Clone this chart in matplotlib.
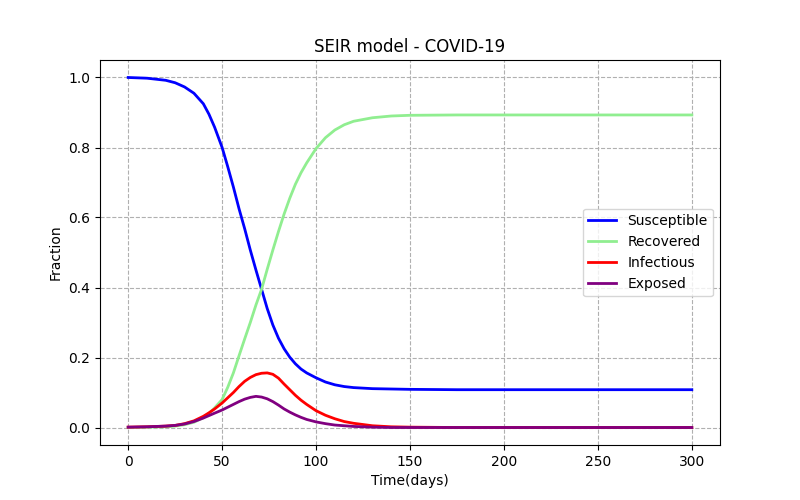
import numpy as np
import matplotlib
matplotlib.use('Agg')
import matplotlib.pyplot as plt

# values
days = [0, 10, 20, 25, 30, 35, 40, 43, 46, 50, 53, 56, 59, 62, 65, 68, 71, 74, 77,
        80, 83, 86, 89, 92, 95, 100, 105, 110, 115, 120, 130, 140, 150, 175, 200, 250, 300]
susceptible = [1.000, 0.998, 0.992, 0.985, 0.973, 0.955, 0.925, 0.895, 0.858, 0.800,
               0.745, 0.687, 0.625, 0.568, 0.507, 0.450, 0.395, 0.340, 0.293,
               0.255, 0.225, 0.201, 0.182, 0.167, 0.156, 0.142, 0.130, 0.122, 0.117,
               0.114, 0.111, 0.110, 0.109, 0.108, 0.108, 0.108, 0.108]
recovered = [0.000, 0.001, 0.002, 0.004, 0.008, 0.015, 0.028, 0.040, 0.056, 0.080,
             0.115, 0.156, 0.205, 0.253, 0.300, 0.350, 0.395, 0.452, 0.507,
             0.560, 0.610, 0.655, 0.695, 0.728, 0.756, 0.797, 0.828, 0.850, 0.865,
             0.875, 0.885, 0.890, 0.892, 0.893, 0.893, 0.893, 0.893]
infectious = [0.001, 0.002, 0.004, 0.006, 0.011, 0.019, 0.032, 0.042, 0.053, 0.070,
              0.085, 0.100, 0.117, 0.132, 0.143, 0.151, 0.155, 0.156, 0.152,
              0.141, 0.124, 0.108, 0.092, 0.078, 0.066, 0.048, 0.035, 0.025, 0.017,
              0.012, 0.005, 0.002, 0.001, 0.000, 0.000, 0.000, 0.000]
exposed = [0.001, 0.002, 0.004, 0.006, 0.010, 0.017, 0.027, 0.034, 0.041, 0.050,
           0.058, 0.066, 0.074, 0.081, 0.086, 0.089, 0.087, 0.082, 0.074,
           0.064, 0.053, 0.044, 0.036, 0.029, 0.023, 0.016, 0.011, 0.007, 0.005,
           0.003, 0.001, 0.000, 0.000, 0.000, 0.000, 0.000, 0.000]

fig, ax = plt.subplots(figsize=(8, 5), dpi=100)

ax.plot(days, susceptible, color='blue', lw=2, label='Susceptible')
ax.plot(days, recovered, color='lightgreen', lw=2, label='Recovered')
ax.plot(days, infectious, color='red', lw=2, label='Infectious')
ax.plot(days, exposed, color='purple', lw=2, label='Exposed')

ax.set_title('SEIR model - COVID-19')
ax.set_xlabel('Time(days)')
ax.set_ylabel('Fraction')
ax.grid(True, linestyle='--')
ax.legend(loc='center right')

fig.savefig('out.png')
